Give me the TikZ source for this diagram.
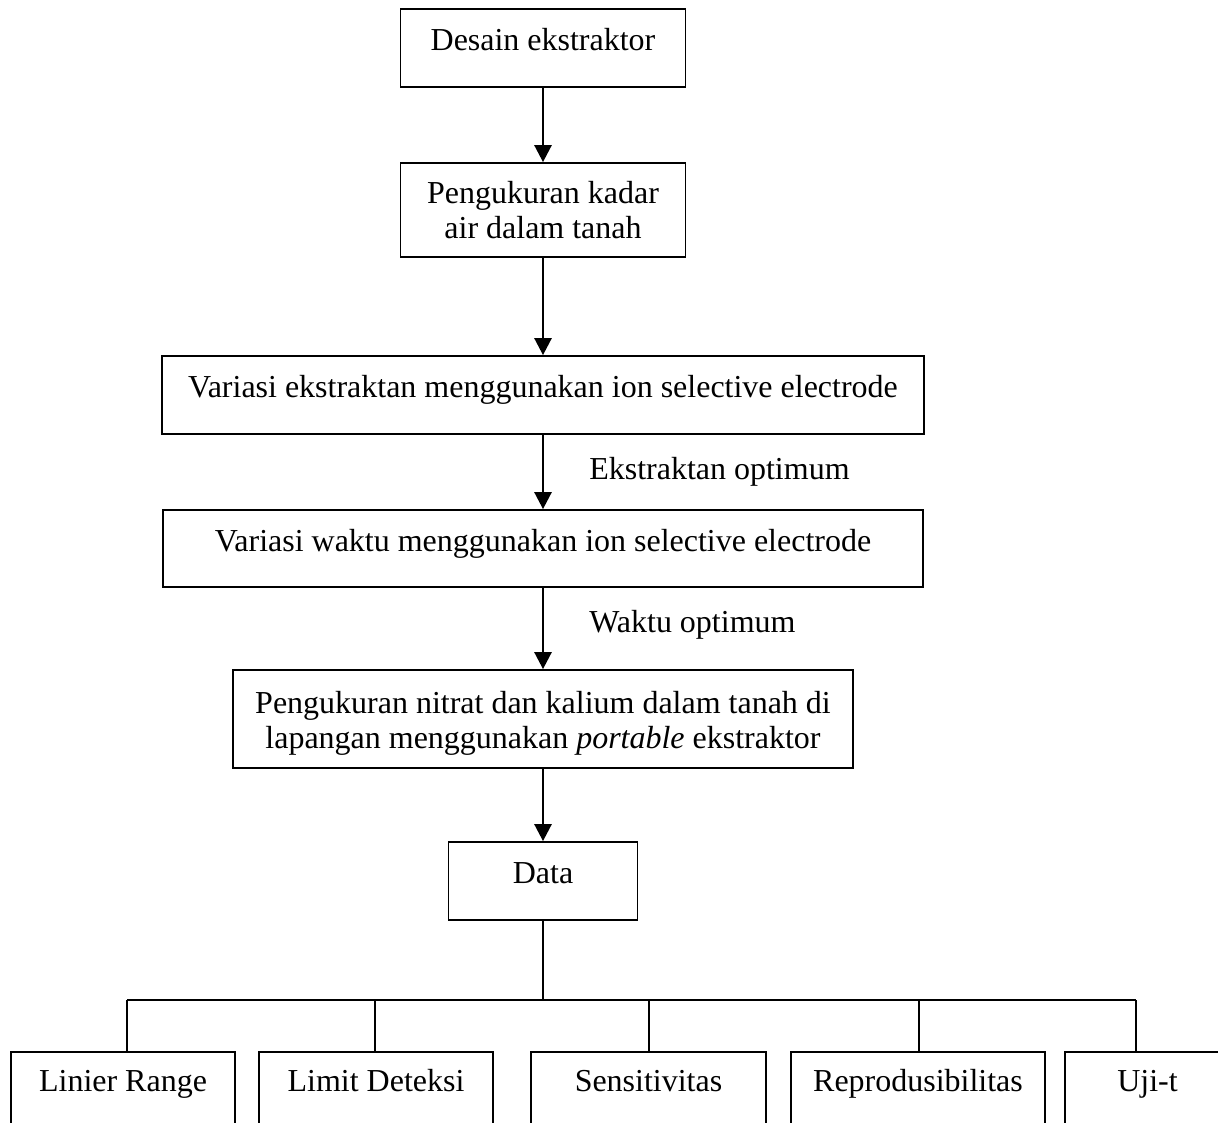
\documentclass[tikz,border=0pt]{standalone}
\usepackage{fontspec}
\setmainfont{Liberation Serif}
\usetikzlibrary{arrows.meta}

\tikzset{
  box/.style={draw, line width=1pt, align=center, inner sep=0pt},
  oneline/.style={text height=0.7em, text depth=0.38em},
  leaf/.style={box, anchor=north, text height=0.8cm, text depth=0.9cm},
  flow/.style={-{Triangle[length=0.34cm,width=0.34cm]}, line width=1.5pt},
  tree/.style={line width=1pt}
}

\begin{document}
\begin{tikzpicture}[font=\fontsize{18.2}{20}\selectfont]
          % page
          \useasboundingbox (0,0) rectangle (24.36,-22.46);
          \clip (0,0) rectangle (24.36,-22.46);
          % main steps
          \node[box, oneline, minimum width=5.7cm, minimum height=1.56cm] (desain) at (10.86,-0.96) {Desain ekstraktor};
          \node[box, minimum width=5.7cm, minimum height=1.88cm] (kadar) at (10.86,-4.2) {Pengukuran kadar\\air dalam tanah};
          \node[box, oneline, minimum width=15.24cm, minimum height=1.56cm] (ekstraktan) at (10.86,-7.9) {Variasi ekstraktan menggunakan ion selective electrode};
          \node[box, oneline, minimum width=15.2cm, minimum height=1.54cm] (waktu) at (10.86,-10.97) {Variasi waktu menggunakan ion selective electrode};
          \node[box, minimum width=12.4cm, minimum height=1.96cm] (nitrat) at (10.86,-14.38) {\rule{0pt}{0.95em}Pengukuran nitrat dan kalium dalam tanah di\\lapangan menggunakan \textit{portable} ekstraktor};
          \node[box, oneline, minimum width=3.78cm, minimum height=1.56cm] (data) at (10.86,-17.62) {Data};
          % arrows
          \draw[flow] (desain) -- (kadar);
          \draw[flow] (kadar) -- (ekstraktan);
          \draw[flow] (ekstraktan) -- node[midway, right=0.9cm, inner sep=0pt] (optekstraktan) {Ekstraktan optimum} (waktu);
          \draw[flow] (waktu) -- node[pos=0.45, right=0.9cm, inner sep=0pt] (optwaktu) {Waktu optimum} (nitrat);
          \draw[flow] (nitrat) -- (data);
          % results
          \node[leaf, minimum width=4.48cm] (linier) at (2.46,-21.02) {Linier Range};
          \node[leaf, minimum width=4.68cm] (limit) at (7.52,-21.02) {Limit Deteksi};
          \node[leaf, minimum width=4.7cm] (sensitivitas) at (12.97,-21.02) {Sensitivitas};
          \node[leaf, minimum width=5.08cm] (repro) at (18.36,-21.02) {Reprodusibilitas};
          \node[leaf, minimum width=3.3cm] (ujit) at (22.95,-21.02) {Uji-t};
          % branches
          \coordinate (hub) at (10.86,-20);
          \coordinate (b1) at (2.54,-20);
          \coordinate (b2) at (7.5,-20);
          \coordinate (b3) at (12.98,-20);
          \coordinate (b4) at (18.38,-20);
          \coordinate (b5) at (22.72,-20);
          \draw[tree] (data) -- (hub);
          \draw[tree] (b1) -- (b5);
          \draw[tree] (b1) -- (b1 |- linier.north);
          \draw[tree] (b2) -- (b2 |- limit.north);
          \draw[tree] (b3) -- (b3 |- sensitivitas.north);
          \draw[tree] (b4) -- (b4 |- repro.north);
          \draw[tree] (b5) -- (b5 |- ujit.north);
        \end{tikzpicture}
\end{document}
